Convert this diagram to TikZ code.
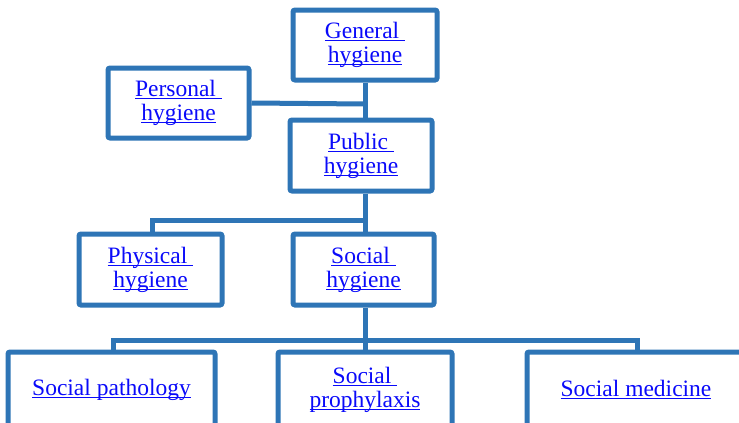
\documentclass[tikz,border=0pt]{standalone}
\usepackage{fontspec}
\setmainfont{Liberation Serif}
\newfontfamily\tnr{Liberation Serif}
\definecolor{boxblue}{RGB}{46,117,182}
\definecolor{linkblue}{RGB}{10,10,250}
\newcommand\myul[1]{\setbox0\hbox{#1}\rlap{\rule[-2.6pt]{\wd0}{1.2pt}}\box0}
\begin{document}
\begin{tikzpicture}[x=1pt,y=-1pt,
  hbox/.style={draw=boxblue,line width=5pt,rounded corners=2pt,fill=white,
    inner sep=0pt,align=center,text=linkblue,
    font=\tnr\fontsize{23.5}{24}\selectfont},
  conn/.style={draw=boxblue,line width=5pt}]
\useasboundingbox (0,0) rectangle (739,423);
\clip (0,0) rectangle (739,423);
% boxes
\node[hbox,minimum width=144pt,minimum height=70pt] (gen) at (365,45) {\myul{General\ }\\\myul{hygiene}};
\node[hbox,minimum width=141pt,minimum height=70pt] (pers) at (178.5,103) {\myul{Personal\ }\\\myul{hygiene}};
\node[hbox,minimum width=142pt,minimum height=71pt] (pub) at (361,155.5) {\myul{Public\ }\\\myul{hygiene}};
\node[hbox,minimum width=143pt,minimum height=71pt] (phys) at (150.5,269.5) {\myul{Physical\ }\\\myul{hygiene}};
\node[hbox,minimum width=141pt,minimum height=71pt] (soc) at (363.5,269.5) {\myul{Social\ }\\\myul{hygiene}};
\node[hbox,minimum width=207pt,minimum height=76pt] (path) at (111.5,390) {\myul{Social pathology}};
\node[hbox,minimum width=174pt,minimum height=76pt] (proph) at (365,390) {\myul{Social\ }\\\myul{prophylaxis}};
\node[hbox,minimum width=218pt,minimum height=76pt] (med) at (636,390) {\myul{Social medicine}};
% connectors
\coordinate (j1) at (365,104);
\coordinate (j2) at (365,220);
\coordinate (j3) at (365,340);
\draw[conn] (gen.south -| j1) -- (pub.north -| j1);
\draw[conn] (pers.east) -- (j1);
\draw[conn] (pub.south -| j2) -- (soc.north -| j2);
\draw[conn] (j2) -| (phys.north -| 152,0);
\draw[conn] (soc.south -| j3) -- (proph.north -| j3);
\draw[conn] (j3) -| (path.north -| 113,0);
\draw[conn] (j3) -| (med.north -| 637,0);
\end{tikzpicture}
\end{document}
